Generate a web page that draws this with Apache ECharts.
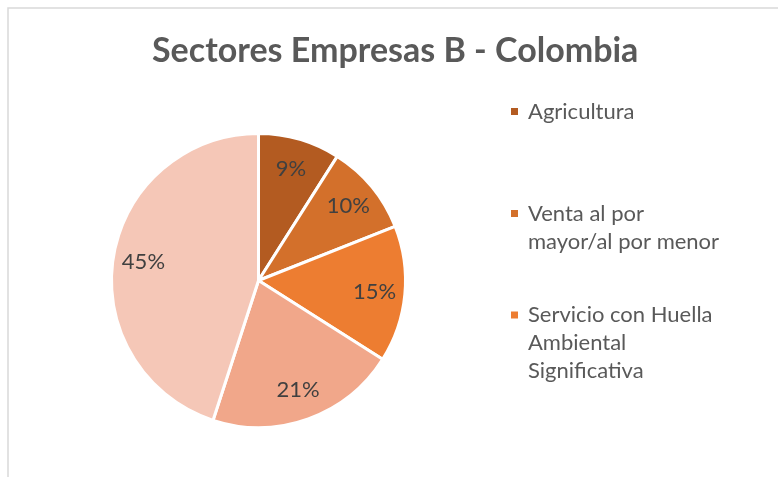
<!DOCTYPE html>
<html>
<head>
<meta charset="utf-8">
<title>Sectores Empresas B - Colombia</title>
<script src="https://cdn.jsdelivr.net/npm/echarts@6/dist/echarts.min.js"></script>
<style>
    html, body {margin:0; padding:0; background:#ffffff;}
    #pie {width:778px; height:477px;}
</style>
</head>
<body>
<div id="pie"></div>
<script>
// datos (porcentajes) ------------------------------------
var sectores = ['Agricultura', 'Venta al por mayor/al por menor', 'Servicio con Huella Ambiental Significativa', 'Manufactura', 'Otros'];
var valores = [9, 10, 15, 21, 45];
var colores = ['#b35b21', '#d3702b', '#ed7d31', '#f1a78a', '#f5c7b7'];
// la leyenda original se corta, solo se ven tres
var leyendaVisible = ['Agricultura', 'Venta al por mayor/al por menor', 'Servicio con Huella Ambiental Significativa'];
var leyendaTexto = {
    'Agricultura': 'Agricultura',
    'Venta al por mayor/al por menor': 'Venta al por\nmayor/al por menor',
    'Servicio con Huella Ambiental Significativa': 'Servicio con Huella\nAmbiental\nSignificativa'
};
var leyendaTop = [97.5, 171.5, 245];

var FONT = 'Lato, "Open Sans", sans-serif';
var LINE_H = 28;

function getData(transparent) {
    var list = [];
    for (var i = 0; i < valores.length; i++) {
        list.push({
            name: sectores[i],
            value: valores[i],
            itemStyle: {color: transparent ? 'rgba(0,0,0,0)' : colores[i]}
        });
    }
    return list;
}

// texto de leyenda con lineas vacias arriba, asi el icono queda junto a la primera linea
function legendLabel(n) {
    var txt = leyendaTexto[n];
    var lines = txt.split('\n').length;
    var pre = '';
    for (var k = 1; k < lines; k++) pre += '\n';
    return pre + txt;
}

function getLegends() {
    var arr = [];
    for (var i = 0; i < leyendaVisible.length; i++) {
        arr.push({
            data: [leyendaVisible[i]],
            orient: 'vertical',
            left: 509,
            top: leyendaTop[i],
            padding: 0,
            icon: 'rect',
            itemWidth: 9,
            itemHeight: 9,
            selectedMode: false,
            formatter: legendLabel,
            textStyle: {
                color: '#595959',
                fontSize: 22,
                fontFamily: FONT,
                lineHeight: LINE_H,
                padding: [0, 0, 0, 4]
            }
        });
    }
    return arr;
}

var myChart = echarts.init(document.getElementById('pie'));

var option = {
    animation: false,
    backgroundColor: '#ffffff',
    title: {
        text: 'Sectores Empresas B - Colombia',
        left: 152,
        top: 34,
        padding: 0,
        textStyle: {
            color: '#595959',
            fontSize: 34,
            fontWeight: 'bold',
            fontFamily: FONT
        }
    },
    legend: getLegends(),
    graphic: [
        // marco gris del grafico (recortado a la derecha y abajo)
        {
            type: 'rect',
            silent: true,
            shape: {x: 8, y: 8, width: 800, height: 500},
            style: {fill: 'none', stroke: '#d9d9d9', lineWidth: 1.5}
        }
    ],
    series: [
        {
            name: 'Sectores',
            type: 'pie',
            center: [258.5, 280.5],
            radius: [0, 147],
            startAngle: 90,
            clockwise: true,
            label: {show: false},
            labelLine: {show: false},
            emphasis: {disabled: true},
            itemStyle: {borderColor: '#ffffff', borderWidth: 3},
            data: getData(false)
        },
        {
            // capa transparente solo para poner las etiquetas mas afuera
            name: 'etiquetas',
            type: 'pie',
            center: [258.5, 280.5],
            radius: [80, 147],
            startAngle: 90,
            clockwise: true,
            silent: true,
            legendHoverLink: false,
            label: {
                show: true,
                position: 'inside',
                formatter: '{c}%',
                color: '#404040',
                fontSize: 22,
                fontFamily: FONT
            },
            labelLine: {show: false},
            itemStyle: {borderWidth: 0},
            data: getData(true)
        }
    ]
};

myChart.setOption(option);
</script>
</body>
</html>
